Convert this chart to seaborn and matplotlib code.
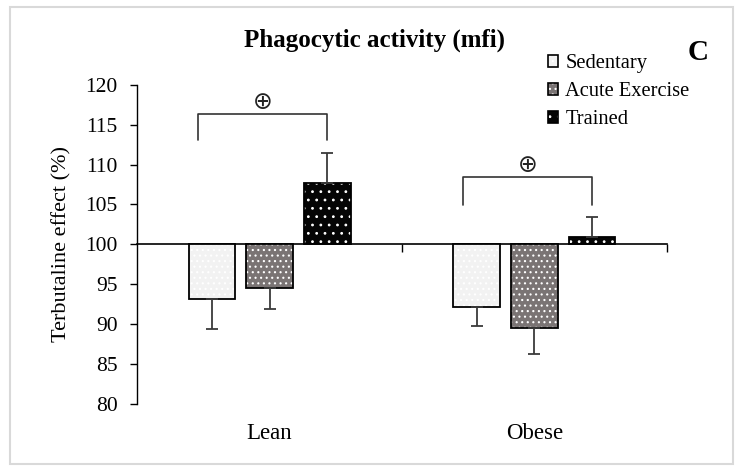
import matplotlib
matplotlib.use("Agg")
import matplotlib.pyplot as plt
from matplotlib.patches import Rectangle
import seaborn as sns
import pandas as pd

# values (terbutaline effect, % of control)
groups = ["Lean", "Obese"]
conditions = ["Sedentary", "Acute Exercise", "Trained"]
effect_lean = [93.1, 94.5, 107.7]
effect_obese = [92.1, 89.5, 100.9]
sem_lean = [3.7, 2.6, 3.7]
sem_obese = [2.4, 3.3, 2.5]
yticks = [80, 85, 90, 95, 100, 105, 110, 115, 120]
baseline = 100

# significance brackets (Sedentary vs Trained) per group
bracket_top = [116.3, 108.4]
bracket_end = [113.1, 104.9]
bracket_sign = "\u2295"

rows = []
for g, vals, errs in zip(groups, [effect_lean, effect_obese], [sem_lean, sem_obese]):
    for c, v, e in zip(conditions, vals, errs):
        rows.append({"Group": g, "Condition": c, "Effect": v, "SEM": e})
df = pd.DataFrame(rows)
df["Delta"] = df["Effect"] - baseline

sns.set_theme(style="ticks")
plt.rcParams["font.family"] = ["Liberation Serif", "DejaVu Sans"]
plt.rcParams["text.color"] = "black"
plt.rcParams["axes.labelcolor"] = "black"
plt.rcParams["xtick.color"] = "black"
plt.rcParams["ytick.color"] = "black"
plt.rcParams["hatch.linewidth"] = 0.8

fig = plt.figure(figsize=(7.41, 4.74), dpi=100)
ax = fig.add_axes([0.185, 0.148, 0.715, 0.673])

palette = {"Sedentary": "#f2f2f2", "Acute Exercise": "#7a7474", "Trained": "#050505"}
hatches = {"Sedentary": "...", "Acute Exercise": "...", "Trained": ".."}

sns.barplot(data=df, x="Group", y="Delta", hue="Condition", order=groups,
            hue_order=conditions, palette=palette, saturation=1,
            width=0.655, gap=0.2, errorbar=None, legend=False, ax=ax,
            bottom=baseline, edgecolor="white", linewidth=0)

# dotted fill + black outline, then one-sided error bars
for cond, cont in zip(conditions, ax.containers):
    for p in cont.patches:
        p.set_hatch(hatches[cond])
        ax.add_patch(Rectangle(p.get_xy(), p.get_width(), p.get_height(), fill=False,
                               edgecolor="black", linewidth=1.3, zorder=p.get_zorder() + 0.1))
    sub = df[df["Condition"] == cond].set_index("Group").loc[groups]
    xs = [p.get_x() + p.get_width() / 2 for p in cont.patches]
    lower = [e if v < baseline else 0 for v, e in zip(sub["Effect"], sub["SEM"])]
    upper = [e if v >= baseline else 0 for v, e in zip(sub["Effect"], sub["SEM"])]
    ax.errorbar(xs, sub["Effect"], yerr=[lower, upper], fmt="none", ecolor="#3a3a3a",
                elinewidth=1.3, capsize=4.5, capthick=1.3, zorder=4)

# brackets from Sedentary to Trained bars
sed, trn = ax.containers[0].patches, ax.containers[2].patches
for i in range(len(groups)):
    x0 = sed[i].get_x() + sed[i].get_width() * 0.2
    x1 = trn[i].get_x() + trn[i].get_width() / 2
    ax.plot([x0, x0, x1, x1], [bracket_end[i], bracket_top[i], bracket_top[i], bracket_end[i]],
            color="#333333", lw=1.2, solid_joinstyle="round", clip_on=False)
    ax.text((x0 + x1) / 2, bracket_top[i] + 1.5, bracket_sign, ha="center", va="center",
            fontsize=17, family=["DejaVu Sans"], color="#222222")

ax.set_xlim(-0.5, 1.5)
ax.set_ylim(80, 120)
ax.set_yticks(yticks)
for s in ["top", "right", "bottom"]:
    ax.spines[s].set_visible(False)
ax.spines["left"].set_color("black")
ax.spines["left"].set_linewidth(1.0)
ax.tick_params(axis="y", direction="out", length=5, width=1, labelsize=15.5, pad=9)
ax.tick_params(axis="x", length=0, labelsize=16.5, pad=14)
ax.set_xlabel("")
ax.set_ylabel("Terbutaline effect (%)", fontsize=16, labelpad=10)

# category axis crossing at 100
sec = ax.secondary_xaxis(0.5)
sec.set_alignment("bottom")
sec.set_xticks([0.5, 1.5])
sec.set_xticklabels([])
sec.tick_params(direction="out", length=6, width=1, color="black")
sec.spines["bottom"].set_color("black")
sec.spines["bottom"].set_linewidth(1.2)

# legend with small outlined dotted squares
handles = []
for cond, cont in zip(conditions, ax.containers):
    p = cont.patches[0]
    fill = Rectangle((0, 0), 1, 1, facecolor=p.get_facecolor(), edgecolor="white",
                     linewidth=0, hatch=hatches[cond])
    edge = Rectangle((0, 0), 1, 1, fill=False, edgecolor="black", linewidth=1.2)
    handles.append((fill, edge))
fig.legend(handles, conditions, loc="upper left", bbox_to_anchor=(548 / 741, 1 - 54 / 474),
           frameon=False, fontsize=14.8, handlelength=0.5, handleheight=0.5,
           handletextpad=0.35, labelspacing=0.45, borderpad=0, borderaxespad=0)

fig.text(374 / 741, 1 - 40 / 474, "Phagocytic activity (mfi)", ha="center", va="center",
         fontsize=18, fontweight="bold")
fig.text(698 / 741, 1 - 53 / 474, "C", ha="center", va="center", fontsize=21, fontweight="bold")

fig.add_artist(Rectangle((9.5 / 741, 1 - 464 / 474), 723.5 / 741, 457 / 474, fill=False,
                         edgecolor="#d9d9d9", linewidth=1.5, transform=fig.transFigure))

fig.savefig("out.png", dpi=100)
